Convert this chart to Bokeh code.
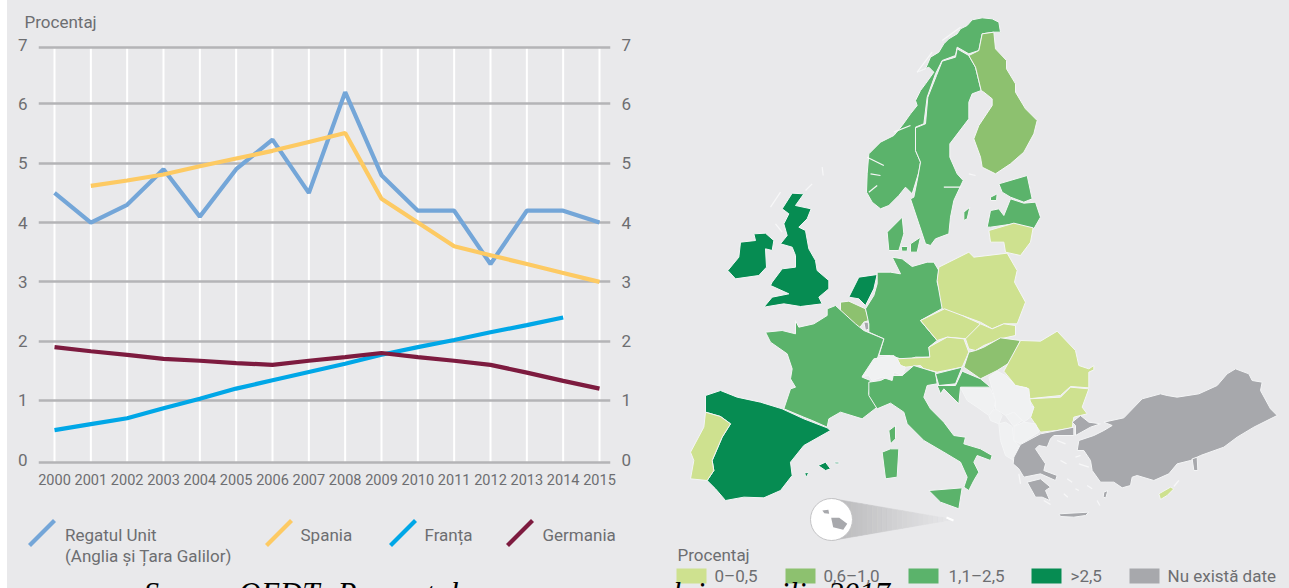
from bokeh.plotting import figure
from bokeh.layouts import row, column
from bokeh.models import Range1d, FixedTicker, LinearAxis
from bokeh.core.properties import value
from bokeh.embed import file_html
from bokeh.resources import INLINE

BG = "#e9e9eb"
TXT = "#6d6e71"
FONT = "Roboto"

years = list(range(2000, 2016))
uk = [4.5, 4.0, 4.3, 4.9, 4.1, 4.9, 5.4, 4.5, 6.2, 4.8, 4.2, 4.2, 3.3, 4.2, 4.2, 4.0]
spain = [None, 4.62, 4.71, 4.81, 4.95, 5.08, 5.21, 5.36, 5.51, 4.4, 4.0, 3.6, 3.45, 3.3, 3.15, 3.0]
france = [0.5, 0.6, 0.7, 0.87, 1.03, 1.2, 1.34, 1.48, 1.62, 1.77, 1.9, 2.02, 2.15, 2.27, 2.4, None]
germany = [1.9, 1.83, 1.77, 1.7, 1.67, 1.63, 1.6, 1.67, 1.73, 1.8, 1.73, 1.67, 1.6, 1.47, 1.33, 1.2]
y_ticks = [0, 1, 2, 3, 4, 5, 6, 7]
# Rules as printed: the top and base rules sit slightly below their tick numbers
rule_levels = [-0.05, 1, 2, 3, 4, 5, 6, 6.95]

C_UK, C_ES, C_FR, C_DE = "#74a6d8", "#fdca63", "#00a7e7", "#7d1b3f"
series = [("Regatul Unit", uk, C_UK), ("Spania", spain, C_ES), ("Franța", france, C_FR), ("Germania", germany, C_DE)]

LOW, MID, HIGH, TOP, NOD, NON = "#cee18f", "#8dc16f", "#5bb36b", "#068c52", "#a7a8ac", "#f0f1f2"
legend_labels = ["0–0,5", "0,6–1,0", "1,1–2,5", ">2,5", "Nu există date"]
legend_colors = [LOW, MID, HIGH, TOP, NOD]
legend_swatch_x = [676, 785, 908, 1031, 1129]
legend_text_x = [714, 823, 948, 1070, 1167]

# ---- Map outlines, traced as (x, y) in 3x crops of the picture ----
Z3 = (640, 0)
Z5 = (680, 280)
Z6 = (960, 300)
Z10 = (840, 240)
ZN = (860, 10)
ZB = (720, 180)
regions = [
 # Nordic
 (HIGH, ZN, [(415,35),(395,25),(365,22),(335,28),(320,45),(300,55),(290,70),(265,85),(250,100),(235,125),(210,140),(195,175),(170,185),(205,170),(220,185),(195,220),(180,240),(165,270),(170,285),(150,310),(125,345),(100,375),(60,395),(25,430),(20,490),(18,545),(35,575),(60,595),(85,585),(115,555),(135,530),(155,550),(175,485),(180,455),(165,420),(165,350),(190,340),(200,260),(225,190),(245,150),(285,135),(290,110),(325,130),(355,120),(365,70),(400,65),(420,65)]),
 (HIGH, ZN, [(290,115),(285,140),(245,152),(228,195),(202,260),(195,340),(165,352),(165,420),(180,455),(172,500),(160,560),(150,565),(175,640),(195,700),(210,705),(225,685),(265,670),(270,620),(280,570),(308,510),(290,490),(268,440),(268,400),(325,325),(325,275),(335,250),(362,240),(345,170),(325,135)]),
 (MID, ZN, [(365,70),(400,65),(405,115),(438,150),(438,175),(465,220),(465,245),(495,295),(530,330),(520,370),(490,425),(450,460),(405,490),(365,470),(360,440),(340,385),(355,345),(395,285),(395,265),(370,245),(362,240),(345,170),(325,135),(355,120)]),
 (HIGH, ZN, [(310,605),(328,590),(320,625),(310,630)]),
 (HIGH, ZN, [(415,520),(500,495),(515,565),(490,575),(450,560),(425,545)]),
 (HIGH, ZN, [(390,560),(410,550),(408,570),(390,570)]),
 (HIGH, ZN, [(380,650),(390,600),(415,595),(430,615),(450,565),(490,578),(525,575),(540,620),(520,655),(460,640),(390,650)]),
 (LOW, Z3, [(1045,690),(1120,668),(1178,682),(1170,725),(1140,765),(1095,755),(1090,725),(1050,725)]),
 (HIGH, ZN, [(80,665),(125,620),(130,670),(115,720),(85,720)]),
 (HIGH, ZN, [(150,700),(180,680),(170,725),(150,725)]),
 (HIGH, Z3, [(782,738),(802,738),(800,752),(784,752)]),
 # British Isles
 (TOP, ZB, [(60,185),(105,180),(100,160),(135,158),(160,180),(155,210),(135,205),(138,260),(115,285),(45,295),(22,270),(55,230)]),
 (TOP, ZB, [(215,38),(250,40),(225,75),(272,85),(260,115),(235,140),(255,150),(265,205),(285,240),(290,270),(325,300),(325,325),(295,350),(305,370),(240,378),(190,370),(130,380),(155,350),(205,340),(150,315),(155,305),(185,265),(225,260),(225,225),(215,200),(180,190),(200,165),(190,130),(205,100),(185,85)]),
 # Benelux
 (TOP, ZB, [(385,350),(415,290),(470,282),(460,325),(435,375),(415,355)]),
 (MID, Z10, [(0,185),(25,182),(75,205),(85,240),(70,245),(55,265),(20,235),(0,215)]),
 (NOD, Z10, [(70,245),(83,245),(85,265),(75,270)]),
 # Central Europe
 (HIGH, Z10, [(110,95),(150,95),(180,100),(155,50),(185,55),(215,78),(260,65),(280,65),(295,90),(290,125),(312,200),(240,240),(290,300),(265,320),(270,350),(225,350),(195,360),(150,345),(115,345),(130,295),(85,275),(85,250),(75,205),(100,165),(110,130)]),
 (LOW, Z10, [(295,80),(385,35),(400,50),(500,38),(530,90),(522,125),(555,185),(530,250),(490,250),(455,265),(420,245),(365,225),(350,225),(305,205),(290,120)]),
 (LOW, Z10, [(240,240),(312,205),(365,225),(420,250),(380,295),(320,290),(290,300)]),
 (LOW, Z10, [(375,295),(420,250),(455,265),(490,250),(525,255),(525,285),(480,295),(430,315),(405,330),(385,325)]),
 (LOW, Z10, [(170,355),(225,352),(268,350),(265,320),(320,290),(370,295),(385,335),(365,380),(290,395),(250,385),(240,375),(195,380),(180,375)]),
 (MID, Z10, [(385,335),(405,330),(430,320),(480,292),(540,300),(510,365),(470,390),(420,415),(370,380)]),
 # West and South
 (HIGH, Z5, [(465,75),(525,130),(550,150),(610,175),(592,230),(565,265),(545,290),(570,300),(565,340),(590,380),(545,415),(480,395),(445,415),(440,440),(395,420),(370,410),(310,385),(330,325),(345,320),(330,295),(335,265),(320,220),(270,185),(255,155),(305,150),(345,160),(345,120),(355,140),(400,130),(440,105),(440,85)]),
 (TOP, Z5, [(75,345),(120,330),(170,350),(240,365),(305,385),(370,415),(440,442),(450,450),(370,495),(330,545),(335,585),(300,630),(250,652),(190,650),(135,660),(105,625),(80,600),(100,570),(95,540),(125,470),(150,430),(120,408),(75,395)]),
 (LOW, Z5, [(75,395),(120,408),(150,430),(125,470),(95,540),(100,570),(80,600),(30,595),(40,540),(30,515),(70,440)]),
 (TOP, Z5, [(413,555),(435,545),(450,565),(435,570)]),
 (TOP, Z5, [(462,545),(475,545),(475,550),(465,550)]),
 (TOP, Z5, [(372,578),(385,575),(378,590)]),
 (HIGH, Z5, [(565,305),(600,300),(630,285),(665,285),(700,255),(765,275),(770,310),(740,315),(730,350),(750,385),(790,425),(820,465),(855,470),(850,490),(900,505),(935,525),(930,540),(890,525),(880,545),(895,575),(880,600),(865,630),(850,620),(860,590),(840,545),(790,515),(730,480),(680,430),(670,395),(630,368),(590,385),(565,345)]),
 (HIGH, Z5, [(605,515),(630,505),(655,505),(650,590),(615,595)]),
 (HIGH, Z5, [(625,450),(645,435),(645,475),(630,490)]),
 (HIGH, Z5, [(745,630),(845,622),(835,685),(780,665)]),
 (HIGH, Z10, [(285,400),(365,380),(345,430),(295,435)]),
 (HIGH, Z10, [(345,435),(365,392),(420,415),(450,440),(360,440),(355,490),(310,445),(300,460),(290,435)]),
 (NON, Z10, [(65,408),(100,355),(160,345),(170,355),(180,375),(195,380),(185,405),(160,395),(155,420),(125,410),(95,420),(85,405)]),
 # Balkans and East
 (LOW, Z6, [(130,212),(180,120),(240,122),(290,92),(345,150),(355,195),(385,205),(400,195),(400,208),(385,215),(385,262),(330,258),(300,285),(205,295),(200,262),(165,255)]),
 (LOW, Z6, [(205,295),(300,290),(330,260),(385,265),(365,320),(380,340),(340,350),(335,382),(290,390),(240,395),(210,350),(220,320)]),
 (NON, Z6, [(0,262),(90,265),(105,300),(100,325),(85,345),(50,320),(20,300)]),
 (NON, Z6, [(85,230),(110,212),(135,225),(165,255),(205,265),(210,315),(220,320),(210,350),(190,365),(160,335),(135,345),(105,325),(105,300)]),
 (NON, Z6, [(85,345),(105,325),(125,345),(115,370),(90,360)]),
 (NON, Z6, [(135,345),(160,335),(185,360),(160,378)]),
 (NON, Z6, [(160,378),(190,365),(225,370),(235,395),(180,430),(160,420)]),
 (NON, Z6, [(115,370),(135,365),(155,378),(160,420),(175,435),(160,480),(135,465),(120,420)]),
 (NOD, Z6, [(160,470),(180,432),(240,400),(340,380),(340,405),(280,405),(270,415),(260,440),(235,435),(225,445),(255,490),(250,510),(290,525),(285,540),(240,520),(190,530),(175,505),(158,490)]),
 (NOD, Z6, [(200,545),(240,535),(270,560),(255,570),(268,600),(245,590),(225,590)]),
 (NOD, Z6, [(295,640),(385,635),(375,645),(340,650),(300,648)]),
 (NOD, Z6, [(335,365),(360,345),(385,365),(420,370),(390,380),(345,405),(345,375)]),
 (NOD, Z6, [(355,420),(400,405),(430,390),(455,375),(430,365),(490,352),(545,295),(600,280),(620,285),(650,290),(715,280),(770,255),(800,220),(825,205),(865,220),(875,240),(905,245),(900,270),(930,325),(950,345),(880,380),(830,410),(790,440),(720,465),(690,480),(650,490),(625,520),(580,540),(530,525),(515,530),(510,555),(485,562),(460,545),(420,545),(395,510),(390,480),(370,450),(350,450)]),
 (NOD, Z6, [(695,475),(710,470),(712,510),(700,510)]),
 (NOD, Z6, [(430,575),(442,570),(436,592),(428,590)]),
 (LOW, Z6, [(595,580),(630,560),(640,565),(620,585),(600,597)]),
]
# Small white islands and fjords
islets = [
 (Z6, [(655,540),(640,558)]), (Z6, [(300,480),(318,490)]), (Z6, [(320,535),(335,545)]), (Z6, [(345,565),(355,570)]),
 (Z6, [(380,555),(395,565)]), (Z6, [(310,580),(322,590)]), (Z6, [(290,420),(315,430)]), (Z6, [(345,470),(360,465)]),
 (Z6, [(175,520),(180,550)]), (Z3, [(545,500),(548,525)]), (Z6, [(355,490),(385,500)]), (Z6, [(410,600),(418,615)]),
 (Z6, [(250,600),(270,612)]),
 (ZB, [(150,80),(180,35)]), (ZB, [(165,130),(185,155)]), (ZB, [(255,30),(275,10)]),
 (ZN, [(170,185),(215,125)]), (ZN, [(245,90),(300,50)]), (ZN, [(20,440),(70,465)]), (ZN, [(30,490),(60,495)]),
 (ZN, [(25,545),(50,525)]), (ZN, [(100,365),(150,345)]), (ZN, [(250,530),(300,530)]), (ZN, [(325,490),(345,495)]),
]
malta = [[(403,690),(418,688),(420,700),(408,698)], [(425,712),(445,712),(465,730),(455,748),(430,740)]]


def crop(off, pts):
    return [off[0] + a / 3 for a, _ in pts], [off[1] + b / 3 for _, b in pts]


def txt(p, x, y, s, size="17px", color=TXT, font=FONT, style="normal", baseline="middle", align="left"):
    p.text(x=[x], y=[y], text=[s], text_font=value(font), text_font_size=size, text_color=color,
           text_font_style=style, text_baseline=baseline, text_align=align)


def caption(p, x, s):
    txt(p, x, 575, s, size="31px", color="#000000", font="Liberation Serif", style="italic", baseline="top")


def strip(w, h, x0, x1, y_bottom, y_top):
    f = figure(width=w, height=h, output_backend="svg", toolbar_location=None,
               x_range=Range1d(x0, x1), y_range=Range1d(y_bottom, y_top), x_axis_type=None, y_axis_type=None,
               background_fill_color=BG, border_fill_color=BG, outline_line_color=None, min_border=0,
               frame_align=False)
    f.xgrid.visible = False
    f.ygrid.visible = False
    return f


# ---- Heading above the line chart ----
head = strip(632, 24, 8, 640, 32, 8)
txt(head, 24, 21, "Procentaj")

# ---- Line chart ----
PX_PER_YEAR = (599 - 54) / 15
chart = figure(width=632, height=458, output_backend="svg", toolbar_location=None,
               x_range=Range1d(2000 - 16 / PX_PER_YEAR, 2015 + 11 / PX_PER_YEAR),
               y_range=Range1d(-0.08, 7.02),
               background_fill_color=BG, border_fill_color=BG, outline_line_color=None,
               min_border_left=30, min_border_right=30, min_border_top=11, min_border_bottom=26,
               frame_align=False)
chart.xgrid.visible = False
chart.ygrid.ticker = FixedTicker(ticks=rule_levels)
chart.ygrid.grid_line_color = "#b4b4b7"
chart.ygrid.grid_line_width = 2.5
chart.segment(x0=years, y0=[rule_levels[0]] * 16, x1=years, y1=[rule_levels[-1]] * 16,
              line_color="white", line_width=2, level="image")
right = LinearAxis()
chart.add_layout(right, "right")
for ax in [chart.yaxis[0], right]:
    ax.ticker = FixedTicker(ticks=y_ticks)
    ax.axis_line_color = None
    ax.major_tick_line_color = None
    ax.minor_tick_line_color = None
    ax.major_label_text_font = FONT
    ax.major_label_text_font_size = "17px"
    ax.major_label_text_color = TXT
    ax.major_label_standoff = 5
ax = chart.xaxis[0]
ax.ticker = FixedTicker(ticks=years)
ax.axis_line_color = None
ax.major_tick_line_color = None
ax.minor_tick_line_color = None
ax.major_label_text_font = FONT
ax.major_label_text_font_size = "14.5px"
ax.major_label_text_color = TXT
ax.major_label_standoff = 3
for name, vals, col in series:
    xs = [y for y, v in zip(years, vals) if v is not None]
    ys = [v for v in vals if v is not None]
    chart.line(xs, ys, line_color=col, line_width=4.2)

# ---- Legend of the line chart, and bottom caption ----
leg = strip(632, 98, 8, 640, 588, 490)
for x0, col in zip([29, 266, 390, 507], [C_UK, C_ES, C_FR, C_DE]):
    leg.line([x0, x0 + 25], [545, 520], line_color=col, line_width=4.2)
txt(leg, 64.5, 534.5, "Regatul Unit")
txt(leg, 64.5, 555.5, "(Anglia și Țara Galilor)")
txt(leg, 300, 534, "Spania")
txt(leg, 424, 534, "Franța")
txt(leg, 542, 534.5, "Germania")
caption(leg, 143, "Sursa:")
caption(leg, 238, "OEDT.")
caption(leg, 337, "Procentul")

# ---- Map ----
m = strip(649, 580, 640, 1289, 588, 8)
xs, ys, cs = [], [], []
for col, off, pts in regions:
    a, b = crop(off, pts)
    xs.append(a); ys.append(b); cs.append(col)
m.patches(xs, ys, fill_color=cs, line_color="#f4f5f6", line_width=1)
for off, pts in islets:
    a, b = crop(off, pts)
    m.line(a, b, line_color="#f7f7f8", line_width=1.2)

# Malta inset: fading cone, disc, islands
CX, CY, TIPX = 831, 519, 953
steps = 24
for i in range(steps):
    f0, f1 = i / steps, (i + 1) / steps
    x0, x1 = CX + (TIPX - CX) * f0, CX + (TIPX - CX) * f1
    h0, h1 = 21 * (1 - f0), 21 * (1 - f1)
    g = int(186 + (233 - 186) * f0)
    col = f"#{g:02x}{g:02x}{g + 2:02x}"
    m.patch([x0, x1, x1, x0], [CY - h0, CY - h1, CY + h1, CY + h0], fill_color=col, line_color=col, line_width=0.6)
m.scatter([CX], [CY], size=42, marker="circle", fill_color="white", line_color="#c4c4c6", line_width=1)
for pts in malta:
    a = [660 + u / 2.49 for u, _ in pts]
    b = [280 + v / 3 for _, v in pts]
    m.patch(a, b, fill_color=NOD, line_color=None)
m.line([946, 953], [517, 520], line_color="white", line_width=2)

txt(m, 677, 554, "Procentaj")
m.quad(left=legend_swatch_x, right=[v + 30 for v in legend_swatch_x], top=[568] * 5, bottom=[583] * 5,
       fill_color=legend_colors, line_color=None)
for x, s in zip(legend_text_x, legend_labels):
    txt(m, x, 575.5, s)
caption(m, 672, "lui")
caption(m, 737, "aprilie 2017")

page = row(column(head, chart, leg, spacing=0), m, spacing=0)
html = file_html(page, INLINE)
html = html.replace("</head>", "<style>html,body{overflow:hidden}body{margin:8px 0 0 8px;background:linear-gradient(#e9e9eb,#e9e9eb) 7px 0/100% 100% no-repeat}</style></head>", 1)
open("out.html", "w").write(html)
